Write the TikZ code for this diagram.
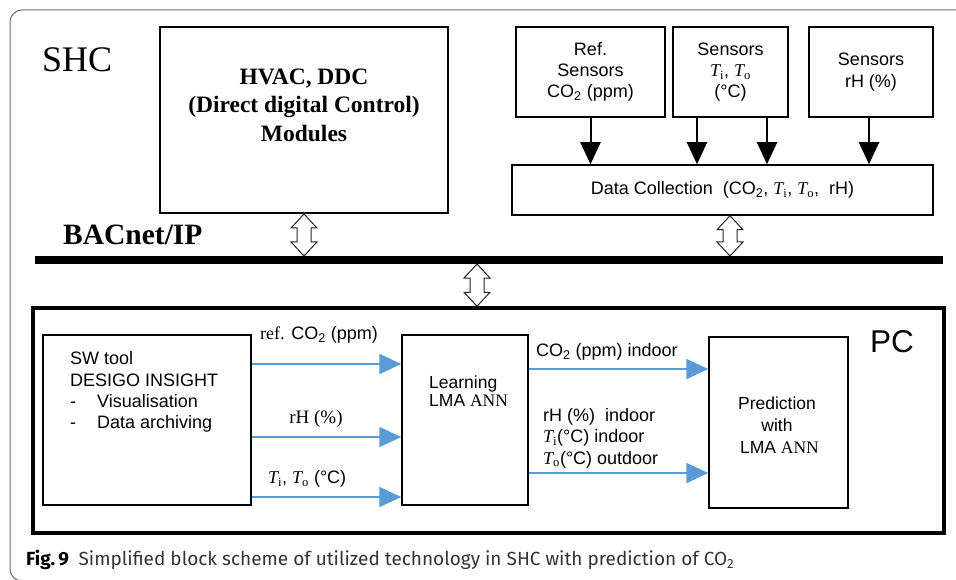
\documentclass[tikz,border=0pt]{standalone}
\usepackage{fontspec}
\setmainfont{Liberation Serif}
\newfontfamily\arialf{Liberation Sans}
\newfontfamily\timesf{Liberation Serif}
\newfontfamily\capf{Fira Sans}
\usetikzlibrary{arrows.meta,calc}
\newcommand{\myTi}{{\timesf\itshape T}\textsubscript{\timesf i}}
\newcommand{\myTo}{{\timesf\itshape T}\textsubscript{\timesf o}}
\newcommand{\COtwo}{CO\textsubscript{2}}
\definecolor{arrblue}{RGB}{91,155,213}
\definecolor{framegray}{RGB}{110,110,110}
\newcommand{\hollowarrow}[2]{%
  \draw[dblarr] let \p1=#1, \p2=#2 in
    (\x1,\y1) -- (\x1+13pt,\y1-14pt) -- (\x1+7pt,\y1-14pt) -- (\x1+7pt,\y2+14pt)
    -- (\x1+13pt,\y2+14pt) -- (\x1,\y2) -- (\x1-13pt,\y2+14pt) -- (\x1-7pt,\y2+14pt)
    -- (\x1-7pt,\y1-14pt) -- (\x1-13pt,\y1-14pt) -- cycle;}
\tikzset{
  box/.style={draw, line width=1.5pt, inner sep=0pt},
  sensf/.style={font=\arialf\fontsize{18}{21.3}\selectfont},
  lbl/.style={inner sep=0pt, font=\arialf\fontsize{18}{21.5}\selectfont},
  darr/.style={line width=2pt, -{Triangle[length=22pt,width=20pt]}},
  barr/.style={draw=arrblue, line width=2pt, -{Triangle[length=22pt,width=20pt]}},
  dblarr/.style={draw=black!85, fill=white, line width=1pt, line join=miter},
}
\begin{document}
\begin{tikzpicture}[x=1pt,y=-1pt]
\useasboundingbox (0,0) rectangle (956,580);
\begin{scope}
  \clip (0,0) rectangle (956,580);
  \draw[framegray, line width=1pt, rounded corners=12pt] (10,10) rectangle (990,581);
\end{scope}

% top part
\node[anchor=base west, inner sep=0pt, font=\timesf\fontsize{36}{36}\selectfont] (shc) at (42,72) {SHC};
\node[box, line width=2pt, minimum width=288pt, minimum height=186pt] (hvac) at (304,120) {};
\node[align=center, font=\timesf\bfseries\fontsize{23.5}{28.5}\selectfont] (hvact) at (304,105)
  {HVAC, DDC\\(Direct digital Control)\\Modules};

\node[box, sensf, align=center, minimum width=149pt, minimum height=90pt] (ref) at (590.5,72)
  {Ref.\\Sensors\\\COtwo{} (ppm)};
\node[box, sensf, align=center, minimum width=115pt, minimum height=90pt] (sti) at (730.5,72)
  {Sensors\\\myTi, \myTo\\(°C)};
\node[box, sensf, align=center, minimum width=124pt, minimum height=90pt] (srh) at (871,72)
  {Sensors\\rH (\%)};
\node[box, sensf, minimum width=421pt, minimum height=50pt] (data) at (722.5,190)
  {Data Collection~ (\COtwo, \myTi, \myTo,~ rH)};

\draw[darr] (ref.south) -- (ref.south |- data.north);
\coordinate (t1) at ($(sti.south)+(-33.5,0)$);
\coordinate (t2) at ($(sti.south)+(36.5,0)$);
\coordinate (h1) at ($(srh.south)+(-2,0)$);
\draw[darr] (t1) -- (t1 |- data.north);
\draw[darr] (t2) -- (t2 |- data.north);
\draw[darr] (h1) -- (h1 |- data.north);

% bus
\coordinate (busL) at (35,260);
\coordinate (busR) at (943,260);
\coordinate (busT) at (35,256);
\coordinate (busB) at (35,264);
\draw[line width=8pt] (busL) -- (busR);
\node[anchor=base west, inner sep=0pt, font=\timesf\bfseries\fontsize{29.5}{30}\selectfont] (bac) at (63,245) {BACnet/IP};

\hollowarrow{(hvac.south)}{(hvac.south |- busT)}
\coordinate (dA) at ($(data.south)+(7.5,0)$);
\hollowarrow{(dA)}{(dA |- busT)}

% PC part
\node[draw, line width=3.5pt, minimum width=911pt, minimum height=225pt] (pc) at (488.5,420.5) {};
\coordinate (pA) at ($(pc.north)+(-11.5,0)$);
\hollowarrow{(pA |- busB)}{(pA)}
\node[anchor=base west, inner sep=0pt, font=\arialf\fontsize{31.5}{32}\selectfont] (pct) at (870,352) {PC};

\node[box, minimum width=208pt, minimum height=170pt] (sw) at (147,420) {};
\node[anchor=west, align=left, inner sep=0pt, sensf] (swt) at (70,392)
  {SW tool\\DESIGO INSIGHT\\\makebox[27pt][l]{-}Visualisation\\\makebox[27pt][l]{-}Data archiving};

\node[box, minimum width=126pt, minimum height=170pt] (learn) at (465,420) {};
\node[anchor=west, align=left, inner sep=0pt, font=\arialf\fontsize{17.5}{18.5}\selectfont] (learnt) at (429,391)
  {Learning\\LMA {\timesf ANN}};

\node[box, minimum width=139pt, minimum height=171pt] (pred) at (778.5,422.5) {};
\node[align=center, inner sep=0pt, font=\arialf\fontsize{17.5}{22}\selectfont] (predt) at (777,425)
  {Prediction\\with\\\ LMA {\timesf ANN}};

\coordinate (a1) at ($(sw.east)+(0,-56)$);
\coordinate (a2) at ($(sw.east)+(0,17)$);
\coordinate (a3) at ($(sw.east)+(0,77)$);
\draw[barr] (a1) -- (a1 -| learn.west);
\draw[barr] (a2) -- (a2 -| learn.west);
\draw[barr] (a3) -- (a3 -| learn.west);
\coordinate (b1) at ($(learn.east)+(0,-51)$);
\coordinate (b2) at ($(learn.east)+(0,53)$);
\draw[barr] (b1) -- (b1 -| pred.west);
\draw[barr] (b2) -- (b2 -| pred.west);

\node[lbl, anchor=west] (l1) at (260,335) {{\timesf ref.} \COtwo{} (ppm)};
\node[lbl, font=\timesf\fontsize{19}{20}\selectfont] (l2) at (316,419) {rH (\%)};
\node[lbl, anchor=west] (l3) at (268,479) {\myTi, \myTo{} (°C)};
\node[lbl, anchor=west] (l4) at (536,352) {\COtwo{} (ppm) indoor};
\node[lbl, anchor=west, align=left] (l5) at (543,438)
  {rH (\%)~ indoor\\\myTi(°C) indoor\\\myTo(°C) outdoor};

% caption
\node[anchor=base west, inner sep=0pt, font=\capf\fontsize{19}{19}\selectfont, text=black!80] (cap) at (26,565)
  {{\bfseries\color{black}Fig.\,9}\enspace Simplified block scheme of utilized technology in SHC with prediction of CO\textsubscript{2}};
\end{tikzpicture}
\end{document}
